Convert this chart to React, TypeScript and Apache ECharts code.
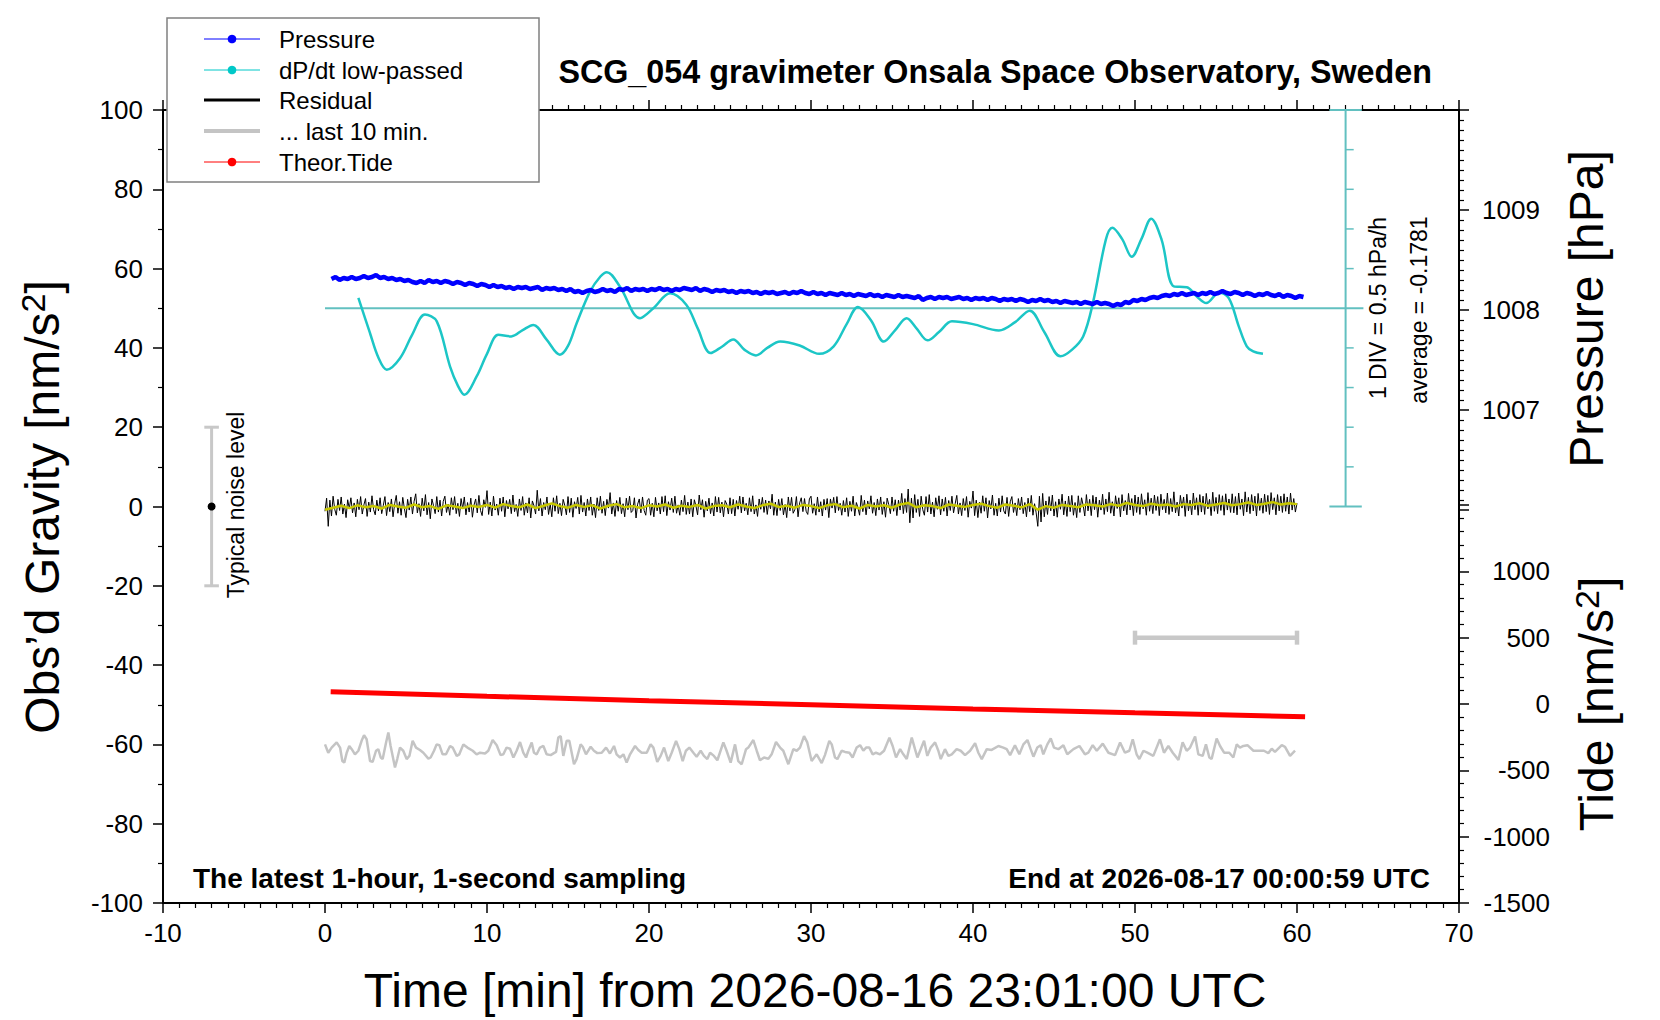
import { useEffect, useRef } from "react";
import * as echarts from "echarts";

const FONT = '"Liberation Sans", Arial, Helvetica, sans-serif';
const INK = "#000000";
const TEAL = "#62C0C0"; // scale bar + zero line of dP/dt
const CYAN = "#1CC6C6";
const BLUE = "#0000FF";
const RED = "#FF0000";
const GREY = "#C4C4C4";
const OLIVE = "#C8C800";

// residual, 0.1 min sampling from t = 0 (nm/s^2)
const RESID_STEP = 0.1;
const RESIDUAL = [
  -1.2, 2.1, -5.0, 1.6, -2.4, 2.6, -0.7, -2.2, 1.8, -1.0,
  2.4, -1.9, 0.6, -2.8, 1.7, -0.5, 2.2, -1.6, 0.9, -2.6,
  1.8, -0.8, 2.5, -1.9, 0.4, 2.0, -2.5, 1.1, -1.4, 2.7,
  -0.8, -2.1, 1.6, -1.1, 2.2, -1.8, 0.3, 2.5, -2.3, 1.0,
  -1.3, 1.9, -2.6, 0.7, 2.8, -1.7, 1.2, -2.2, 2.3, -0.5,
  -2.8, 1.8, -0.9, 2.4, -1.9, 1.3, 3.2, -1.6, 0.7, -2.5,
  2.1, -1.1, 3.0, -2.1, 1.0, -3.1, 1.9, 0.2, -1.8, 2.5,
  -1.4, 1.6, -2.4, 1.3, 2.6, -1.5, 0.6, -2.2, 2.2, -0.8,
  2.5, -1.8, 0.8, -2.5, 2.0, -0.6, 2.4, -2.1, 1.0, -1.4,
  2.1, -2.7, 0.4, 1.9, -1.6, 2.8, -1.0, -2.3, 1.7, -0.2,
  4.0, -2.0, 1.1, -2.4, 2.6, -0.9, 0.6, -2.2, 2.1, -1.2,
  2.4, -2.6, 1.5, -0.6, 1.8, -1.8, 2.9, -1.3, 0.5, -2.5,
  1.9, -1.0, 2.5, -2.2, 0.9, -1.6, 2.2, -2.9, 1.4, 0.2,
  -1.9, 4.1, -1.1, 2.0, -2.4, 1.0, -0.8, 2.4, -2.0, 0.7,
  -2.6, 2.2, -1.2, 2.7, -1.8, 0.8, -2.3, 1.8, 0.3, -2.1,
  2.5, -1.5, 2.1, -2.7, 1.2, -0.5, 2.3, -1.9, 2.8, -1.4,
  1.0, -2.4, 1.9, -1.0, 2.4, -2.2, 0.6, -2.8, 2.2, -1.0,
  2.6, -1.7, 1.3, -2.3, 1.8, -0.4, 3.5, -1.9, 0.9, -2.5,
  1.5, -1.2, 2.3, -1.8, 0.7, -2.6, 2.1, -0.8, 2.6, -1.5,
  -1.0, 2.2, -2.9, 0.6, 1.9, -1.6, 2.4, -1.0, -2.2, 1.6,
  2.0, -2.2, 0.8, -2.6, 2.3, -1.1, 0.9, -1.9, 2.5, -1.3,
  2.7, -2.3, 1.2, -0.9, 2.1, -1.5, 2.6, -1.7, 0.4, -2.2,
  1.6, -1.3, 2.8, -2.0, 1.1, -1.9, 1.9, -2.6, 1.7, 0.1,
  -2.1, 2.9, -0.8, 1.7, -2.7, 1.3, -1.1, 2.1, -1.8, 0.9,
  -2.4, 2.5, -1.4, 2.3, -1.6, 1.1, -2.6, 1.5, 0.6, -1.9,
  2.2, -1.8, 1.8, -2.4, 1.5, -0.7, 2.6, -1.6, 2.4, -1.1,
  0.8, -2.1, 2.2, -1.3, 2.7, -1.9, 0.4, -2.5, 1.9, -0.7,
  2.3, -1.5, 1.6, -2.0, 1.4, -0.6, 3.1, -2.2, 1.1, -2.3,
  1.8, -1.0, 2.0, -2.1, 0.5, -2.8, 2.4, -1.1, 2.3, -1.7,
  -0.8, 2.5, -2.6, 0.9, 2.2, -1.3, 2.0, -1.2, -2.0, 1.9,
  2.6, -1.7, 0.7, -2.2, 2.4, -1.4, 1.2, -2.4, 1.8, -0.9,
  2.0, -2.8, 1.9, -0.4, 2.3, -1.6, 2.5, -1.0, 0.8, -2.2,
  1.5, -1.4, 2.2, -2.5, 1.3, -1.2, 2.6, -2.4, 1.0, -0.3,
  -2.2, 2.8, -1.3, 1.6, -2.1, 1.4, -0.6, 2.7, -1.7, 1.0,
  -2.3, 1.9, -0.9, 2.4, -2.0, 1.2, -2.7, 2.1, 0.5, -1.8,
  2.4, -1.2, 1.7, -2.3, 1.6, -0.9, 3.3, -1.8, 2.0, -1.5,
  4.4, -4.1, 2.1, -2.9, 3.0, -1.5, 1.8, -2.5, 2.6, -0.8,
  -2.2, 2.5, -1.4, 3.0, -1.9, 1.1, -2.6, 2.2, -0.7, 2.7,
  -2.1, 1.9, -1.2, 2.3, -2.4, 1.5, -1.0, 2.6, -1.6, 0.7,
  2.8, -1.9, 0.9, -2.3, 2.0, -1.0, 2.5, -2.7, 1.3, -0.4,
  3.9, -2.3, 1.6, -2.8, 1.1, -1.7, 2.7, -1.2, 2.2, -2.9,
  1.5, -0.6, 2.9, -2.2, 0.8, -2.4, 2.1, -1.4, 2.7, -1.1,
  -1.9, 2.3, -2.5, 1.2, 2.5, -1.5, 0.9, -2.3, 2.0, -0.8,
  2.4, -1.8, 1.0, -2.6, 2.1, -1.3, 2.8, -2.2, 0.7, -1.6,
  -5.0, 2.6, -3.9, 3.3, -2.6, 1.4, -2.0, 2.5, -1.1, 2.9,
  -2.4, 1.2, -2.7, 1.9, -0.7, 3.1, -2.1, 1.4, -2.5, 2.6,
  -1.3, 2.8, -2.2, 1.0, -2.8, 2.7, -1.5, 2.2, 0.3, -2.4,
  3.0, -1.1, 1.8, -2.3, 2.8, -0.8, 2.4, -2.7, 1.6, -0.9,
  3.1, -2.0, 1.9, -1.3, 3.6, -1.7, 1.2, -2.4, 2.7, -0.5,
  2.2, -2.6, 3.0, -1.1, 1.5, -2.1, 3.3, -0.9, 2.0, -2.3,
  2.9, -1.5, 2.4, -2.0, 3.2, -0.6, 1.7, -2.2, 3.5, -1.2,
  2.1, -1.8, 2.9, -1.0, 2.5, -2.3, 3.1, -0.8, 1.8, -1.6,
  3.4, -2.0, 2.0, -1.3, 3.7, -1.6, 1.1, -2.4, 2.8, -0.4,
  2.4, -2.5, 3.1, -1.1, 1.6, -2.1, 3.4, -0.8, 2.2, -2.2,
  3.0, -1.4, 2.6, -2.0, 3.3, -0.6, 1.8, -2.3, 3.6, -1.2,
  2.3, -1.8, 3.0, -1.0, 2.7, -2.2, 3.2, -0.9, 1.9, -1.5,
  3.2, -1.6, 2.5, -2.1, 3.4, -0.7, 1.9, -2.3, 3.7, -1.4,
  2.3, -1.8, 3.0, -1.1, 2.6, -2.4, 3.3, -1.0, 2.1, -1.7,
  3.1, -1.3, 2.8, -2.0, 3.5, -0.8, 2.2, -2.1, 3.0, -1.1,
  2.6, -1.5, 3.2, -1.2, 2.4, -1.9, 3.4, -0.9, 2.0, -1.4,
  0.8,
];

// smoothed residual (yellow), 0.5 min sampling from t = 0
const SMOOTH_STEP = 0.5;
const SMOOTHED = [
  -0.8, -0.3, 0.2, -0.4, 0.3, -0.2, 0.1, -0.5, 0.4, 0.0,
  -0.3, 0.5, -0.2, 0.1, -0.6, 0.3, 0.0, -0.4, 0.2, -0.1,
  0.4, -0.3, 0.6, 0.1, -0.2, 0.5, -0.4, 0.2, 0.8, 0.1,
  -0.3, 0.4, -0.1, 0.3, -0.5, 0.2, 0.6, -0.2, 0.1, -0.4,
  0.3, 0.0, 0.5, -0.3, 0.2, -0.1, 0.4, -0.5, 0.1, 0.3,
  -0.2, 0.5, 0.0, -0.4, 0.3, 0.7, -0.1, 0.2, -0.3, 0.4,
  0.1, -0.4, 0.3, 0.6, -0.2, 0.2, -0.5, 0.4, 0.0, 0.3,
  -0.3, 0.5, 0.9, -0.2, 0.3, 0.1, -0.4, 0.5, 0.2, -0.1,
  0.4, 0.7, 0.1, -0.3, 0.5, 0.2, -0.2, 0.6, -0.8, 0.1,
  -0.3, 0.4, 0.1, -0.2, 0.5, 0.3, 0.0, 0.6, 0.2, 0.9,
  0.4, 0.1, 0.7, 0.3, 0.5, 0.0, 0.6, 0.4, 0.8, 0.2,
  0.5, 0.9, 0.3, 0.6, 1.0, 0.4, 0.7, 1.1, 0.5, 0.8,
  0.6,
];

// "... last 10 min." residual, stretched over the hour: [min, nm/s^2]
const LAST10: [number, number][] = [
  [0.0, -60.0], [0.2, -62.1], [0.41, -60.8], [0.72, -59.5], [0.93, -60.8], [1.07, -64.2], [1.19, -64.6], [1.34, -62.1],
  [1.5, -60.4], [1.65, -61.2], [1.85, -62.5], [2.06, -61.6], [2.26, -59.1], [2.41, -57.7], [2.57, -58.7], [2.78, -64.2],
  [2.94, -64.4], [3.15, -61.6], [3.29, -61.2], [3.44, -63.3], [3.56, -63.7], [3.77, -59.5], [3.91, -57.0], [4.05, -60.4],
  [4.32, -65.8], [4.46, -63.7], [4.63, -60.8], [4.83, -61.6], [5.04, -63.7], [5.21, -62.9], [5.41, -59.1], [5.62, -60.8],
  [5.86, -61.4], [6.07, -62.1], [6.38, -63.6], [6.52, -63.3], [6.73, -61.6], [6.89, -60.0], [7.06, -60.2], [7.26, -62.5],
  [7.47, -62.5], [7.72, -60.4], [7.88, -60.8], [8.13, -62.9], [8.29, -62.5], [8.54, -60.0], [8.79, -60.8], [9.12, -61.6],
  [9.36, -62.5], [9.57, -62.1], [9.88, -62.3], [10.08, -61.6], [10.35, -58.9], [10.6, -60.2], [10.84, -62.7], [11.01, -62.5],
  [11.21, -60.8], [11.42, -61.1], [11.63, -63.3], [11.83, -61.6], [12.04, -59.4], [12.24, -62.1], [12.41, -63.3], [12.55, -61.6],
  [12.76, -59.5], [12.9, -62.1], [13.07, -62.5], [13.27, -60.8], [13.48, -60.4], [13.68, -62.5], [13.93, -62.7], [14.26, -61.9],
  [14.4, -58.3], [14.55, -57.9], [14.71, -62.9], [14.92, -59.1], [15.08, -59.1], [15.37, -65.0], [15.53, -63.7], [15.78, -60.0],
  [15.91, -60.6], [16.11, -62.5], [16.4, -60.6], [16.6, -61.6], [16.81, -62.2], [17.08, -62.1], [17.35, -60.8], [17.59, -62.3],
  [17.84, -60.4], [18.0, -62.5], [18.21, -63.3], [18.42, -62.5], [18.62, -64.6], [18.83, -62.5], [19.14, -60.4], [19.34, -61.4],
  [19.55, -62.1], [19.86, -62.1], [20.1, -60.0], [20.27, -60.8], [20.51, -64.4], [20.72, -62.9], [20.93, -60.8], [21.19, -64.2],
  [21.4, -62.1], [21.67, -59.1], [21.87, -61.2], [22.08, -64.2], [22.28, -61.6], [22.49, -60.8], [22.74, -62.1], [22.94, -63.1],
  [23.19, -61.6], [23.39, -62.9], [23.6, -63.7], [23.77, -62.1], [24.01, -62.9], [24.22, -64.0], [24.59, -59.5], [24.79, -61.6],
  [25.04, -64.6], [25.31, -60.0], [25.51, -64.2], [25.72, -65.0], [25.99, -61.2], [26.13, -60.8], [26.44, -58.9], [26.65, -61.6],
  [26.85, -64.0], [27.1, -63.3], [27.37, -63.6], [27.57, -62.5], [27.84, -59.4], [28.09, -60.8], [28.29, -61.6], [28.6, -65.0],
  [28.91, -61.2], [29.12, -61.6], [29.32, -60.8], [29.57, -57.9], [29.77, -59.5], [30.04, -64.2], [30.35, -62.5], [30.66, -64.7],
  [30.86, -62.7], [31.13, -59.1], [31.28, -60.0], [31.48, -63.3], [31.63, -63.7], [31.89, -61.6], [32.1, -61.9], [32.37, -62.1],
  [32.57, -63.3], [32.82, -60.8], [33.03, -60.2], [33.23, -61.6], [33.4, -60.8], [33.6, -60.8], [33.81, -62.5], [34.01, -62.1],
  [34.26, -62.5], [34.51, -61.6], [34.84, -58.3], [35.04, -60.4], [35.25, -63.3], [35.5, -61.2], [35.7, -62.5], [35.91, -63.7],
  [36.22, -58.3], [36.42, -61.2], [36.57, -63.3], [36.98, -59.1], [37.18, -62.9], [37.39, -60.8], [37.66, -59.5], [37.86, -61.6],
  [38.01, -63.7], [38.27, -61.2], [38.48, -62.9], [38.69, -62.5], [38.99, -61.2], [39.24, -61.6], [39.51, -62.7], [39.82, -61.6],
  [40.13, -59.7], [40.33, -62.1], [40.54, -63.7], [40.85, -61.2], [41.15, -61.4], [41.57, -60.4], [41.87, -60.8], [42.08, -61.2],
  [42.29, -62.7], [42.59, -60.2], [42.86, -62.5], [43.11, -60.0], [43.36, -58.9], [43.56, -61.2], [43.73, -63.1], [43.97, -60.8],
  [44.18, -60.2], [44.34, -62.5], [44.59, -60.0], [44.8, -58.5], [45.0, -60.8], [45.27, -61.2], [45.58, -60.2], [45.82, -62.5],
  [46.2, -61.2], [46.57, -60.4], [46.91, -62.5], [47.12, -62.1], [47.39, -60.2], [47.64, -61.6], [48.01, -59.8], [48.36, -62.1],
  [48.77, -62.7], [49.08, -59.5], [49.38, -62.1], [49.65, -61.6], [49.86, -58.7], [50.1, -62.5], [50.27, -63.7], [50.52, -61.6],
  [50.76, -62.1], [51.13, -62.9], [51.54, -58.7], [51.79, -62.1], [52.06, -60.4], [52.33, -62.1], [52.68, -63.9], [52.94, -59.5],
  [53.19, -61.6], [53.4, -60.8], [53.71, -58.0], [53.91, -62.5], [54.18, -62.9], [54.38, -60.0], [54.59, -63.3], [54.73, -63.7],
  [55.04, -58.5], [55.25, -60.4], [55.5, -62.1], [55.82, -62.1], [56.07, -63.3], [56.28, -60.0], [56.48, -60.8], [56.69, -60.4],
  [56.94, -60.2], [57.31, -61.6], [57.72, -61.6], [57.96, -61.6], [58.23, -62.2], [58.44, -61.1], [58.64, -61.9], [59.06, -60.2],
  [59.26, -60.6], [59.57, -62.9], [59.88, -61.6],
];

// dP/dt low-passed, drawn in gravity units around the 50 base line: [min, value]
const DPDT: [number, number][] = [
  [2.06, 52.6], [2.78, 43.7], [3.3, 37.5], [3.81, 34.5], [4.63, 37.4], [5.4, 43.5], [6.17, 48.4], [6.9, 46.7],
  [7.72, 35.3], [8.2, 30.5], [8.6, 28.2], [9.36, 32.8], [10.0, 38.5], [10.7, 43.3], [11.5, 42.9], [12.2, 44.5],
  [12.86, 45.8], [13.68, 42.1], [14.5, 38.3], [15.0, 40.5], [15.54, 46.3], [16.36, 54.2], [17.0, 58.0], [17.4, 59.1],
  [18.2, 55.5], [19.45, 47.5], [20.27, 50.0], [21.3, 53.8], [22.3, 50.9], [23.0, 45.0], [23.8, 38.7], [24.5, 40.3],
  [25.2, 42.1], [25.9, 39.5], [26.6, 38.1], [27.3, 40.0], [28.1, 41.6], [29.3, 40.6], [30.5, 38.5], [31.4, 40.4],
  [32.2, 46.0], [32.9, 50.3], [33.7, 47.0], [34.5, 41.6], [35.2, 44.5], [35.9, 47.5], [36.5, 45.0], [37.2, 41.9],
  [37.9, 44.0], [38.7, 46.7], [40.0, 46.0], [41.6, 44.4], [42.6, 46.5], [43.5, 49.4], [44.4, 44.0], [45.4, 37.9],
  [46.1, 39.5], [46.8, 42.9], [47.4, 51.3], [48.2, 67.3], [48.6, 70.3], [49.2, 67.5], [49.8, 63.0], [50.4, 67.5],
  [51.0, 72.6], [51.64, 67.3], [52.4, 55.5], [53.2, 55.3], [53.8, 53.0], [54.4, 51.3], [55.2, 54.0], [55.8, 52.5],
  [56.4, 45.5], [56.9, 40.4], [57.3, 39.1], [57.9, 38.5],
];
const DPDT_BASE = 50;
const DPDT_BASE_END = 64.1;

// pressure (hPa), 0.25 min sampling from t = 0.4
const PRESS_T0 = 0.4;
const PRESS_STEP = 0.25;
const PRESSURE = [
  1008.31, 1008.33, 1008.30, 1008.32, 1008.31, 1008.33, 1008.31, 1008.32,
  1008.34, 1008.32, 1008.33, 1008.35, 1008.32, 1008.33, 1008.31, 1008.32,
  1008.30, 1008.31, 1008.29, 1008.30, 1008.28, 1008.27, 1008.29, 1008.27,
  1008.30, 1008.28, 1008.29, 1008.27, 1008.29, 1008.28, 1008.26, 1008.28,
  1008.27, 1008.25, 1008.27, 1008.26, 1008.24, 1008.26, 1008.25, 1008.23,
  1008.25, 1008.23, 1008.24, 1008.22, 1008.23, 1008.21, 1008.23, 1008.22,
  1008.23, 1008.21, 1008.22, 1008.23, 1008.20, 1008.22, 1008.21, 1008.22,
  1008.20, 1008.21, 1008.19, 1008.21, 1008.18, 1008.19, 1008.17, 1008.19,
  1008.20, 1008.18, 1008.19, 1008.21, 1008.19, 1008.20, 1008.18, 1008.21,
  1008.20, 1008.22, 1008.19, 1008.21, 1008.20, 1008.21, 1008.19, 1008.21,
  1008.20, 1008.22, 1008.20, 1008.21, 1008.19, 1008.21, 1008.20, 1008.22,
  1008.21, 1008.20, 1008.22, 1008.19, 1008.21, 1008.20, 1008.18, 1008.20,
  1008.19, 1008.20, 1008.18, 1008.19, 1008.17, 1008.19, 1008.18, 1008.19,
  1008.17, 1008.18, 1008.16, 1008.18, 1008.17, 1008.18, 1008.16, 1008.17,
  1008.18, 1008.16, 1008.18, 1008.17, 1008.19, 1008.17, 1008.16, 1008.18,
  1008.16, 1008.17, 1008.15, 1008.17, 1008.16, 1008.15, 1008.17, 1008.15,
  1008.16, 1008.14, 1008.16, 1008.15, 1008.14, 1008.16, 1008.14, 1008.15,
  1008.13, 1008.15, 1008.14, 1008.13, 1008.15, 1008.13, 1008.14, 1008.13,
  1008.12, 1008.14, 1008.10, 1008.12, 1008.13, 1008.11, 1008.13, 1008.12,
  1008.13, 1008.11, 1008.12, 1008.13, 1008.11, 1008.12, 1008.10, 1008.12,
  1008.11, 1008.12, 1008.10, 1008.12, 1008.11, 1008.09, 1008.11, 1008.10,
  1008.11, 1008.09, 1008.11, 1008.10, 1008.08, 1008.10, 1008.09, 1008.11,
  1008.09, 1008.10, 1008.08, 1008.09, 1008.07, 1008.09, 1008.08, 1008.07,
  1008.08, 1008.06, 1008.08, 1008.07, 1008.06, 1008.08, 1008.06, 1008.07,
  1008.06, 1008.04, 1008.06, 1008.05, 1008.08, 1008.07, 1008.10, 1008.09,
  1008.11, 1008.10, 1008.12, 1008.13, 1008.12, 1008.14, 1008.15, 1008.14,
  1008.16, 1008.15, 1008.17, 1008.15, 1008.16, 1008.17, 1008.15, 1008.17,
  1008.16, 1008.18, 1008.16, 1008.17, 1008.19, 1008.17, 1008.16, 1008.18,
  1008.17, 1008.15, 1008.17, 1008.16, 1008.14, 1008.16, 1008.15, 1008.17,
  1008.15, 1008.14, 1008.16, 1008.13, 1008.15, 1008.14, 1008.12, 1008.14,
  1008.13,
];

// theoretical tide (nm/s^2): [min, value]
const TIDE: [number, number][] = [
  [0.35, 92], [10, 58], [20, 25], [30, -6], [40, -37], [50, -66], [60.5, -96],
];

// annotations
const NOISE_BAR = [-7, -20, 20]; // x, low, high
const DIV_BAR = [63, 0, 100]; // x, low, high of the dP/dt scale
const DIV_TICKS = [10, 20, 30, 40, 60, 70, 80, 90];
const SPAN_BAR = [50, 60, 500]; // x from, x to, tide level

const LEGEND = [
  { name: "Pressure", color: BLUE, width: 1, dot: true },
  { name: "dP/dt low-passed", color: "#00C8C8", width: 1, dot: true },
  { name: "Residual", color: INK, width: 3, dot: false },
  { name: "... last 10 min.", color: GREY, width: 4, dot: false },
  { name: "Theor.Tide", color: RED, width: 1, dot: true },
];

const tickLine = { color: INK, width: 1.5 };

function text(x: number, y: number, str: string, size: number, extra: Record<string, unknown> = {}, rot = 0) {
  const { align = "center", bold = false, rich } = extra as { align?: string; bold?: boolean; rich?: unknown };
  return {
    type: "text",
    x,
    y,
    rotation: rot,
    z: 50,
    silent: true,
    style: {
      text: str,
      fill: INK,
      fontSize: size,
      fontFamily: FONT,
      fontWeight: bold ? "bold" : "normal",
      align,
      verticalAlign: "middle",
      textAlign: align,
      textVerticalAlign: "middle",
      rich,
    },
  };
}

function buildOption() {
  const sup = { sup: { fontSize: 34, fontFamily: FONT, padding: [0, 0, 19, 0] } };

  const legendChildren: unknown[] = [
    {
      type: "rect",
      z: 100,
      shape: { x: 167, y: 18, width: 372, height: 164 },
      style: { fill: "#FFFFFF", stroke: "#808080", lineWidth: 1.5 },
    },
  ];
  const rows = [39, 70, 100, 131, 162];
  LEGEND.forEach((it, i) => {
    legendChildren.push({
      type: "line",
      z: 101,
      shape: { x1: 204, y1: rows[i], x2: 260, y2: rows[i] },
      style: { stroke: it.color, lineWidth: it.width },
    });
    if (it.dot) {
      legendChildren.push({
        type: "circle",
        z: 102,
        shape: { cx: 232, cy: rows[i], r: 4.3 },
        style: { fill: it.color },
      });
    }
    legendChildren.push({
      type: "text",
      z: 102,
      x: 279,
      y: rows[i],
      style: {
        text: it.name,
        fill: INK,
        fontSize: 24,
        fontFamily: FONT,
        align: "left",
        verticalAlign: "middle",
        textAlign: "left",
        textVerticalAlign: "middle",
      },
    });
  });

  const hiddenX = (grid: number) => ({ type: "value", gridIndex: grid, min: -10, max: 70, show: false });

  return {
    animation: false,
    backgroundColor: "#FFFFFF",
    textStyle: { fontFamily: FONT },
    grid: [
      { left: 163, top: 110, width: 1296, height: 793 },
      { left: 163, top: 110, width: 1296, height: 400 },
      { left: 163, top: 505, width: 1296, height: 398 },
    ],
    xAxis: [
      {
        type: "value",
        gridIndex: 0,
        position: "bottom",
        min: -10,
        max: 70,
        interval: 10,
        axisLine: { show: true, onZero: false, lineStyle: { color: INK, width: 2 } },
        axisTick: { show: true, length: 10, lineStyle: tickLine },
        minorTick: { show: true, splitNumber: 10, length: 5, lineStyle: { color: INK, width: 1.2 } },
        axisLabel: { color: INK, fontSize: 26, fontFamily: FONT, margin: 17 },
        splitLine: { show: false },
      },
      {
        type: "value",
        gridIndex: 0,
        position: "top",
        min: -10,
        max: 70,
        interval: 10,
        axisLine: { show: true, onZero: false, lineStyle: { color: INK, width: 2 } },
        axisTick: { show: true, length: 10, lineStyle: tickLine },
        minorTick: { show: true, splitNumber: 10, length: 5, lineStyle: { color: INK, width: 1.2 } },
        axisLabel: { show: false },
        splitLine: { show: false },
      },
      hiddenX(1),
      hiddenX(2),
    ],
    yAxis: [
      {
        type: "value",
        gridIndex: 0,
        position: "left",
        min: -100,
        max: 100,
        interval: 20,
        axisLine: { show: true, onZero: false, lineStyle: { color: INK, width: 2 } },
        axisTick: { show: true, length: 10, lineStyle: tickLine },
        minorTick: { show: true, splitNumber: 2, length: 5, lineStyle: { color: INK, width: 1.2 } },
        axisLabel: { color: INK, fontSize: 26, fontFamily: FONT, margin: 20 },
        splitLine: { show: false },
      },
      {
        type: "value",
        gridIndex: 1,
        position: "right",
        min: 1006,
        max: 1010,
        interval: 1,
        axisLine: { show: true, onZero: false, lineStyle: { color: INK, width: 2 } },
        axisTick: { show: true, length: 10, lineStyle: tickLine },
        minorTick: { show: true, splitNumber: 10, length: 5, lineStyle: { color: INK, width: 1.2 } },
        axisLabel: {
          color: INK,
          fontSize: 26,
          fontFamily: FONT,
          margin: 23,
          formatter: (v: number) => (v > 1006 && v < 1010 ? String(v) : ""),
        },
        splitLine: { show: false },
      },
      {
        type: "value",
        gridIndex: 2,
        position: "right",
        min: -1500,
        max: 1500,
        interval: 500,
        axisLine: { show: true, onZero: false, lineStyle: { color: INK, width: 2 } },
        axisTick: { show: true, length: 10, lineStyle: tickLine },
        minorTick: { show: true, splitNumber: 5, length: 5, lineStyle: { color: INK, width: 1.2 } },
        axisLabel: {
          color: INK,
          fontSize: 26,
          fontFamily: FONT,
          margin: 91,
          align: "right",
          formatter: (v: number) => (v < 1500 ? String(v) : ""),
        },
        splitLine: { show: false },
      },
    ],
    series: [
      // dP/dt scale: vertical bar with caps
      {
        type: "custom",
        xAxisIndex: 0,
        yAxisIndex: 0,
        silent: true,
        encode: { x: 0, y: [1, 2] },
        data: [DIV_BAR],
        renderItem: (_p: unknown, api: any) => {
          const x = api.value(0);
          const top = api.coord([x, api.value(2)]);
          const bot = api.coord([x, api.value(1)]);
          const half = api.size([1, 0])[0];
          const st = { stroke: TEAL, lineWidth: 2 };
          return {
            type: "group",
            children: [
              { type: "line", shape: { x1: top[0], y1: top[1], x2: bot[0], y2: bot[1] }, style: st },
              { type: "line", shape: { x1: top[0] - half, y1: top[1], x2: top[0] + half, y2: top[1] }, style: st },
              { type: "line", shape: { x1: bot[0] - half, y1: bot[1], x2: bot[0] + half, y2: bot[1] }, style: st },
            ],
          };
        },
      },
      // dP/dt scale: division ticks
      {
        type: "custom",
        xAxisIndex: 0,
        yAxisIndex: 0,
        silent: true,
        data: DIV_TICKS.map((y) => [DIV_BAR[0], y]),
        renderItem: (_p: unknown, api: any) => {
          const a = api.coord([api.value(0), api.value(1)]);
          const len = api.size([0.5, 0])[0];
          return { type: "line", shape: { x1: a[0], y1: a[1], x2: a[0] + len, y2: a[1] }, style: { stroke: TEAL, lineWidth: 1.5 } };
        },
      },
      // dP/dt base line
      {
        type: "line",
        xAxisIndex: 0,
        yAxisIndex: 0,
        data: [
          [0, DPDT_BASE],
          [DPDT_BASE_END, DPDT_BASE],
        ],
        showSymbol: false,
        lineStyle: { color: TEAL, width: 2 },
        silent: true,
      },
      // dP/dt low-passed
      {
        name: "dP/dt low-passed",
        type: "line",
        xAxisIndex: 0,
        yAxisIndex: 0,
        data: DPDT,
        smooth: 0.35,
        showSymbol: false,
        lineStyle: { color: CYAN, width: 2.5 },
      },
      // pressure
      {
        name: "Pressure",
        type: "line",
        xAxisIndex: 2,
        yAxisIndex: 1,
        data: PRESSURE.map((v, i) => [+(PRESS_T0 + i * PRESS_STEP).toFixed(2), v]),
        showSymbol: false,
        lineStyle: { color: BLUE, width: 4.5 },
      },
      // residual
      {
        name: "Residual",
        type: "line",
        xAxisIndex: 0,
        yAxisIndex: 0,
        data: RESIDUAL.map((v, i) => [+(i * RESID_STEP).toFixed(2), v]),
        showSymbol: false,
        lineStyle: { color: INK, width: 1 },
      },
      {
        name: "Smoothed",
        type: "line",
        xAxisIndex: 0,
        yAxisIndex: 0,
        data: SMOOTHED.map((v, i) => [i * SMOOTH_STEP, v]),
        showSymbol: false,
        lineStyle: { color: OLIVE, width: 2.5 },
      },
      // last 10 min
      {
        name: "... last 10 min.",
        type: "line",
        xAxisIndex: 0,
        yAxisIndex: 0,
        data: LAST10,
        showSymbol: false,
        lineStyle: { color: GREY, width: 2.5 },
      },
      // typical noise level bar
      {
        type: "custom",
        xAxisIndex: 0,
        yAxisIndex: 0,
        silent: true,
        encode: { x: 0, y: [1, 2] },
        data: [NOISE_BAR],
        renderItem: (_p: unknown, api: any) => {
          const x = api.value(0);
          const top = api.coord([x, api.value(2)]);
          const bot = api.coord([x, api.value(1)]);
          const half = api.size([0.45, 0])[0];
          const st = { stroke: "#C8C8C8", lineWidth: 3 };
          return {
            type: "group",
            children: [
              { type: "line", shape: { x1: top[0], y1: top[1], x2: bot[0], y2: bot[1] }, style: st },
              { type: "line", shape: { x1: top[0] - half, y1: top[1], x2: top[0] + half, y2: top[1] }, style: st },
              { type: "line", shape: { x1: bot[0] - half, y1: bot[1], x2: bot[0] + half, y2: bot[1] }, style: st },
            ],
          };
        },
      },
      {
        type: "scatter",
        xAxisIndex: 0,
        yAxisIndex: 0,
        data: [[NOISE_BAR[0], (NOISE_BAR[1] + NOISE_BAR[2]) / 2]],
        symbolSize: 8,
        itemStyle: { color: INK, opacity: 1 },
        silent: true,
      },
      // theoretical tide
      {
        name: "Theor.Tide",
        type: "line",
        xAxisIndex: 3,
        yAxisIndex: 2,
        data: TIDE,
        showSymbol: false,
        lineStyle: { color: RED, width: 5 },
      },
      // span of the last 10 min
      {
        type: "custom",
        xAxisIndex: 3,
        yAxisIndex: 2,
        silent: true,
        data: [SPAN_BAR],
        renderItem: (_p: unknown, api: any) => {
          const a = api.coord([api.value(0), api.value(2)]);
          const b = api.coord([api.value(1), api.value(2)]);
          const st = { stroke: "#C8C8C8", lineWidth: 4.5 };
          return {
            type: "group",
            children: [
              { type: "line", shape: { x1: a[0], y1: a[1], x2: b[0], y2: b[1] }, style: st },
              { type: "line", shape: { x1: a[0], y1: a[1] - 7, x2: a[0], y2: a[1] + 7 }, style: st },
              { type: "line", shape: { x1: b[0], y1: b[1] - 7, x2: b[0], y2: b[1] + 7 }, style: st },
            ],
          };
        },
      },
    ],
    graphic: [
      text(1432, 72, "SCG_054 gravimeter Onsala Space Observatory, Sweden", 32.3, { align: "right", bold: true }),
      text(193, 878, "The latest 1-hour, 1-second sampling", 28, { align: "left", bold: true }),
      text(1430, 878, "End at 2026-08-17 00:00:59 UTC", 28, { align: "right", bold: true }),
      text(815, 990, "Time [min] from 2026-08-16 23:01:00 UTC", 48),
      text(42, 507, "Obs\u2019d Gravity [nm/s{sup|2}]", 48, { rich: sup }, Math.PI / 2),
      text(1586, 309, "Pressure [hPa]", 48, {}, Math.PI / 2),
      text(1596, 704, "Tide [nm/s{sup|2}]", 48, { rich: sup }, Math.PI / 2),
      text(1378, 308, "1 DIV = 0.5 hPa/h", 23, {}, Math.PI / 2),
      text(1419, 310, "average = -0.1781", 23, {}, Math.PI / 2),
      text(236, 505, "Typical noise level", 23, {}, Math.PI / 2),
      { type: "group", z: 100, silent: true, children: legendChildren },
    ],
  };
}

export default function App() {
  const ref = useRef<HTMLDivElement>(null);

  useEffect(() => {
    if (!ref.current) return;
    const chart = echarts.init(ref.current, null, { renderer: "svg" });
    chart.setOption(buildOption() as any);
    return () => chart.dispose();
  }, []);

  return (
    <div
      ref={ref}
      style={{ position: "fixed", left: 0, top: 0, width: 1660, height: 1020, background: "#FFFFFF" }}
    />
  );
}
